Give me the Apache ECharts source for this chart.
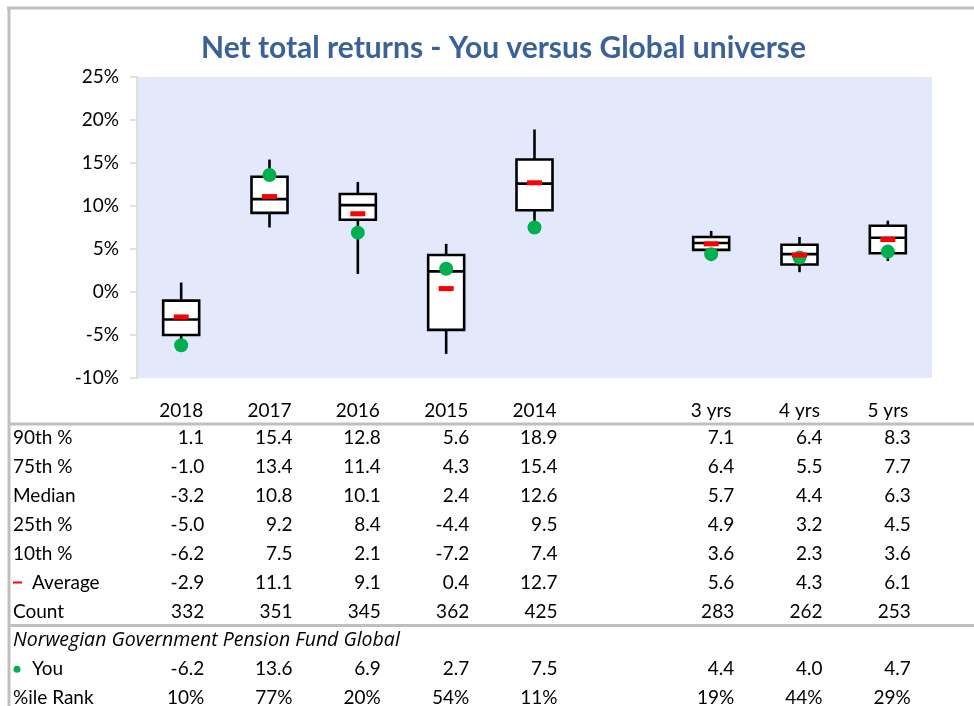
<!DOCTYPE html>
<html>
<head>
<meta charset="utf-8">
<script src="https://cdn.jsdelivr.net/npm/echarts@6/dist/echarts.min.js"></script>
<style>
  html, body { margin: 0; padding: 0; background: #fff; }
  #chart { width: 974px; height: 706px; }
</style>
</head>
<body>
<div id="chart"></div>
<script>
// 分类（空位用于分隔年度和多年期）
const categories = ['2018', '2017', '2016', '2015', '2014', '', '3 yrs', '4 yrs', '5 yrs'];

// 分位数（null = 空列）
const p90 = [1.1, 15.4, 12.8, 5.6, 18.9, null, 7.1, 6.4, 8.3];
const p75 = [-1.0, 13.4, 11.4, 4.3, 15.4, null, 6.4, 5.5, 7.7];
const median = [-3.2, 10.8, 10.1, 2.4, 12.6, null, 5.7, 4.4, 6.3];
const p25 = [-5.0, 9.2, 8.4, -4.4, 9.5, null, 4.9, 3.2, 4.5];
const p10 = [-6.2, 7.5, 2.1, -7.2, 7.4, null, 3.6, 2.3, 3.6];
const average = [-2.9, 11.1, 9.1, 0.4, 12.7, null, 5.6, 4.3, 6.1];
const count = [332, 351, 345, 362, 425, null, 283, 262, 253];
const you = [-6.2, 13.6, 6.9, 2.7, 7.5, null, 4.4, 4.0, 4.7];
const rank = [10, 77, 20, 54, 11, null, 19, 44, 29];

// 坐标轴刻度
const yTicks = [-10, -5, 0, 5, 10, 15, 20, 25];

const FONT = 'Lato, "Open Sans", sans-serif';
const FS = 19;
const chart = echarts.init(document.getElementById('chart'));

// 箱线图数据
const boxData = [];
categories.forEach(function (c, i) {
    if (p90[i] === null) return;
    boxData.push([i, p10[i], p25[i], median[i], p75[i], p90[i]]);
});

function renderBox(params, api) {
    const i = api.value(0);
    const lo = api.coord([i, api.value(1)]);
    const q1 = api.coord([i, api.value(2)]);
    const md = api.coord([i, api.value(3)]);
    const q3 = api.coord([i, api.value(4)]);
    const hi = api.coord([i, api.value(5)]);
    const x = lo[0];
    const hw = 18;
    const ls = { stroke: '#000', lineWidth: 2.6 };
    return {
        type: 'group',
        children: [
            { type: 'line', shape: { x1: x, y1: hi[1], x2: x, y2: lo[1] }, style: ls },
            { type: 'rect', shape: { x: x - hw, y: q3[1], width: hw * 2, height: q1[1] - q3[1] },
              style: { fill: '#fff', stroke: '#000', lineWidth: 2.6 } },
            { type: 'line', shape: { x1: x - hw, y1: md[1], x2: x + hw, y2: md[1] }, style: ls }
        ]
    };
}

chart.setOption({
    animation: false,
    textStyle: { fontFamily: FONT },
    title: {
        text: 'Net total returns - You versus Global universe',
        left: 196,
        top: 28,
        textStyle: { fontSize: 30, fontWeight: 'bold', color: '#3a6298', fontFamily: FONT }
    },
    grid: {
        left: 137, right: 42, top: 77, bottom: 328,
        show: true, backgroundColor: '#e3e9fb', borderWidth: 0
    },
    xAxis: {
        type: 'category',
        data: categories,
        axisLine: { show: false },
        axisTick: { show: false },
        axisLabel: { margin: 23, fontSize: FS, color: '#000', fontFamily: FONT }
    },
    yAxis: {
        type: 'value',
        min: yTicks[0],
        max: yTicks[yTicks.length - 1],
        interval: 5,
        axisLine: { show: true, lineStyle: { color: '#d9d9d0', width: 1.5 } },
        axisTick: { show: true, length: 7, lineStyle: { color: '#d9d9d0', width: 1.5 } },
        splitLine: { show: false },
        axisLabel: { formatter: '{value}%', fontSize: FS, color: '#000', margin: 18, fontFamily: FONT }
    },
    series: [
        {
            type: 'custom',
            renderItem: renderBox,
            data: boxData,
            encode: { x: 0, y: [1, 2, 3, 4, 5] },
            z: 2
        },
        {
            type: 'scatter',
            data: you.map(function (v, i) { return v === null ? null : [i, v]; }),
            symbol: 'circle',
            symbolSize: 14,
            itemStyle: { color: '#00b050', opacity: 1 },
            z: 3
        },
        {
            type: 'scatter',
            data: average.map(function (v, i) { return v === null ? null : [i, v]; }),
            symbol: 'rect',
            symbolSize: [15, 5],
            itemStyle: { color: '#ff0000', opacity: 1 },
            z: 4
        }
    ]
});

// 表格
const rows = [
    { label: '90th %', vals: p90, fmt: function (v) { return v.toFixed(1); } },
    { label: '75th %', vals: p75, fmt: function (v) { return v.toFixed(1); } },
    { label: 'Median', vals: median, fmt: function (v) { return v.toFixed(1); } },
    { label: '25th %', vals: p25, fmt: function (v) { return v.toFixed(1); } },
    { label: '10th %', vals: p10, fmt: function (v) { return v.toFixed(1); } },
    { label: 'Average', vals: average, fmt: function (v) { return v.toFixed(1); }, mark: 'avg' },
    { label: 'Count', vals: count, fmt: function (v) { return String(v); } },
    { label: 'Norwegian Government Pension Fund Global', italic: true },
    { label: 'You', vals: you, fmt: function (v) { return v.toFixed(1); }, mark: 'you' },
    { label: '%ile Rank', vals: rank, fmt: function (v) { return v + '%'; } }
];

const graphics = [];
const rowTop = 438;
const rowH = 28.9;
const frame = '#bfbfbf';

graphics.push({ type: 'line', shape: { x1: 7, y1: 8, x2: 974, y2: 8 }, style: { stroke: frame, lineWidth: 3 } });
graphics.push({ type: 'line', shape: { x1: 9, y1: 7, x2: 9, y2: 706 }, style: { stroke: frame, lineWidth: 3 } });
graphics.push({ type: 'line', shape: { x1: 9, y1: 424, x2: 974, y2: 424 }, style: { stroke: frame, lineWidth: 3 } });
graphics.push({ type: 'line', shape: { x1: 9, y1: 625.5, x2: 974, y2: 625.5 }, style: { stroke: frame, lineWidth: 3 } });

rows.forEach(function (r, k) {
    const y = rowTop + k * rowH;
    let lx = 13;
    if (r.mark === 'avg') {
        graphics.push({ type: 'rect', shape: { x: 13, y: y - 1, width: 9, height: 2 }, style: { fill: '#ff0000' } });
        lx = 32;
    }
    if (r.mark === 'you') {
        graphics.push({ type: 'circle', shape: { cx: 17, cy: y, r: 3.5 }, style: { fill: '#00b050' } });
        lx = 32;
    }
    graphics.push({
        type: 'text',
        style: {
            text: r.label, x: lx, y: y,
            align: 'left', verticalAlign: 'middle',
            fontSize: r.italic ? 19.5 : FS, fontStyle: r.italic ? 'italic' : 'normal',
            fontFamily: r.italic ? '"Open Sans", sans-serif' : FONT, fill: '#000'
        }
    });
    if (!r.vals) return;
    r.vals.forEach(function (v, i) {
        if (v === null) return;
        const cx = chart.convertToPixel({ xAxisIndex: 0 }, i);
        graphics.push({
            type: 'text',
            style: {
                text: r.fmt(v), x: cx + 23, y: y,
                align: 'right', verticalAlign: 'middle',
                fontSize: FS, fontFamily: FONT, fill: '#000'
            }
        });
    });
});

chart.setOption({ graphic: graphics });

window.addEventListener('resize', function () {
    chart.resize();
});
</script>
</body>
</html>
